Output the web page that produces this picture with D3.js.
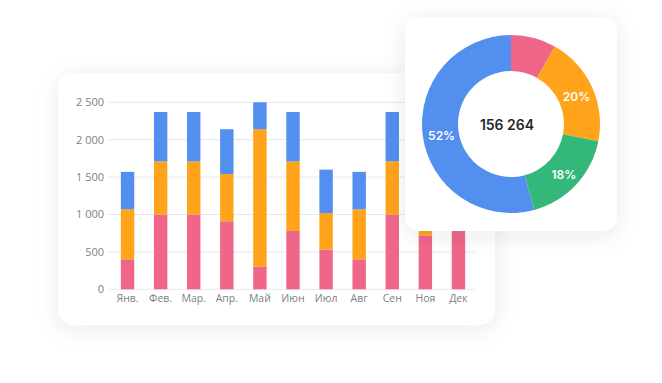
<!DOCTYPE html>
<html><head><meta charset="utf-8">
<script src="https://cdn.jsdelivr.net/npm/d3@7"></script>
<style>html,body{margin:0;padding:0;background:#fff;}svg{display:block;}</style>
</head><body>
<svg id="c" width="662" height="383"></svg>
<script>
const months = ["Янв.","Фев.","Мар.","Апр.","Май","Июн","Июл","Авг","Сен","Ноя","Дек"];
const seriesPink   = [400, 1000, 1000, 910, 300, 780, 530, 400, 1000, 720, 1000];
const seriesOrange = [670, 710, 710, 630, 1840, 930, 490, 670, 710, 600, 600];
const seriesBlue   = [500, 660, 660, 600, 360, 660, 580, 500, 660, 600, 500];
const yTicks = [0, 500, 1000, 1500, 2000, 2500];
const pieNames  = ["pink","orange","green","blue"];
const pieValues = [8.2, 19.9, 17.7, 54.2];
const pieLabels = ["", "20%", "18%", "52%"];
const pieTotal = "156 264";
const colors = {pink:"#F06689", orange:"#FFA31A", blue:"#528FEE", green:"#34B87A"};

const svg = d3.select("#c");
const defs = svg.append("defs");
const f = defs.append("filter").attr("id","sh").attr("x","-30%").attr("y","-30%").attr("width","160%").attr("height","160%");
f.append("feDropShadow").attr("dx",0).attr("dy",4).attr("stdDeviation",11).attr("flood-color","#1b2a4e").attr("flood-opacity",0.09);

// left card
svg.append("rect").attr("x",58).attr("y",73).attr("width",437).attr("height",252).attr("rx",16)
  .attr("fill","#fff").attr("filter","url(#sh)");

const x = d3.scaleBand().domain(months).range([111, 475]).paddingInner(0.6).paddingOuter(0.3);
const y = d3.scaleLinear().domain([0, 2500]).range([289.3, 102.3]);

const g = svg.append("g");
// grid
g.selectAll("line.grid").data(yTicks).join("line")
  .attr("x1",108).attr("x2",475).attr("y1",d=>y(d)).attr("y2",d=>y(d))
  .attr("stroke","#e6e8ec").attr("stroke-width",1);
// y labels
const fmt = d => d3.format(",")(d).replace(/,/g," ");
g.selectAll("text.yl").data(yTicks).join("text")
  .attr("x",104).attr("y",d=>y(d)).attr("dy","0.35em").attr("text-anchor","end")
  .attr("font-family","Open Sans, sans-serif").attr("font-size",11).attr("fill","#7a818b")
  .text(fmt);

// stacked bars
const data = months.map((m,i)=>({m, pink:seriesPink[i], orange:seriesOrange[i], blue:seriesBlue[i]}));
const stack = d3.stack().keys(["pink","orange","blue"])(data);
const bw = 13.4;
stack.forEach(s=>{
  g.selectAll(null).data(s).join("rect")
    .attr("x",d=>x(d.data.m)+x.bandwidth()/2-bw/2).attr("width",bw)
    .attr("y",d=>y(d[1])).attr("height",d=>y(d[0])-y(d[1]))
    .attr("fill",colors[s.key]);
});
// x labels
g.selectAll("text.xl").data(months).join("text")
  .attr("x",d=>x(d)+x.bandwidth()/2).attr("y",302).attr("text-anchor","middle")
  .attr("font-family","Open Sans, sans-serif").attr("font-size",10.5).attr("fill","#7a818b")
  .text(d=>d);

// pie card
svg.append("rect").attr("x",405).attr("y",17).attr("width",212).attr("height",214).attr("rx",14)
  .attr("fill","#fff").attr("filter","url(#sh)");

const cx = 511, cy = 124;
const pie = d3.pie().sort(null).value(d=>d.v);
const arcs = pie(pieNames.map((n,i)=>({n, v:pieValues[i], l:pieLabels[i]})));
const arc = d3.arc().innerRadius(53).outerRadius(89);
const lab = d3.arc().innerRadius(71).outerRadius(71);
const pg = svg.append("g").attr("transform",`translate(${cx},${cy})`);
pg.selectAll("path").data(arcs).join("path").attr("d",arc).attr("fill",d=>colors[d.data.n]);
pg.selectAll("text.pl").data(arcs).join("text")
  .attr("transform",d=>{const c=lab.centroid(d);return `translate(${c[0]+1},${c[1]+2})`;})
  .attr("text-anchor","middle").attr("dy","0.35em")
  .attr("font-family","Inter, sans-serif").attr("font-size",12).attr("font-weight",600).attr("fill","#fff")
  .text(d=>d.data.l);
pg.append("text").attr("x",-4).attr("y",1).attr("dy","0.35em").attr("text-anchor","middle")
  .attr("font-family","Inter, sans-serif").attr("font-size",14).attr("font-weight",600).attr("fill","#25282d")
  .text(pieTotal);
</script>
</body></html>
